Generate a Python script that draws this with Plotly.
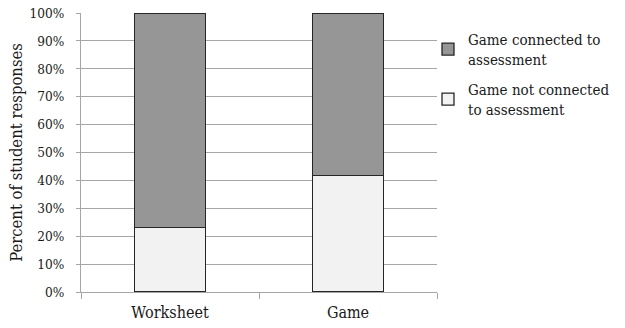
import plotly.graph_objects as go

# Share of student responses per activity (percent)
categories = ["Worksheet", "Game"]
not_connected = [23.0, 41.8]
connected = [77.0, 58.2]
y_ticks = [0, 10, 20, 30, 40, 50, 60, 70, 80, 90, 100]
y_tick_labels = [f"{v}%" for v in y_ticks]

FONT = "DejaVu Serif Condensed, DejaVu Serif"
GRID = "#a6a6a6"
TEXT = "#1a1a1a"

# paper area spans x=81..625 px; plot occupies 81..437 px
PAPER_W = 625 - 81
PLOT_W = 437 - 81

fig = go.Figure()
fig.add_trace(go.Bar(
    x=categories, y=not_connected,
    name="Game not connected<br>to assessment",
    legendgroup="not_connected", legendrank=2,
    marker=dict(color="#f2f2f2", line=dict(color="#262626", width=1.3)),
))
fig.add_trace(go.Bar(
    x=categories, y=connected,
    name="Game connected to<br>assessment",
    legendgroup="connected", legendrank=1,
    marker=dict(color="#969696", line=dict(color="#262626", width=1.3)),
))

fig.update_layout(
    barmode="stack",
    bargap=0.6,
    width=625, height=328,
    margin=dict(l=81, r=0, t=13, b=36, autoexpand=False),
    paper_bgcolor="white", plot_bgcolor="white",
    font=dict(family=FONT, size=16, color=TEXT),
    legend=dict(
        x=(428 - 81) / PAPER_W, y=0.964, xanchor="left", yanchor="top",
        traceorder="grouped",
        font=dict(family=FONT, size=15, color=TEXT),
        itemwidth=30, tracegroupgap=8,
        bgcolor="rgba(0,0,0,0)",
    ),
    xaxis=dict(
        domain=[0, PLOT_W / PAPER_W],
        tickson="boundaries", ticks="outside", ticklen=6, tickcolor=GRID,
        ticklabelstandoff=6,
        showline=True, linecolor=GRID, linewidth=1,
        showgrid=False,
        tickfont=dict(family=FONT, size=16, color=TEXT),
    ),
    yaxis=dict(
        range=[0, 100], tickmode="array",
        tickvals=y_ticks, ticktext=y_tick_labels,
        ticks="outside", ticklen=4, tickcolor=GRID,
        ticklabelstandoff=9,
        showline=True, linecolor=GRID, linewidth=1,
        showgrid=True, gridcolor=GRID, gridwidth=1,
        zeroline=False,
        tickfont=dict(family=FONT, size=13.5, color=TEXT),
        title=dict(text="Percent of student responses",
                   font=dict(family=FONT, size=16.5, color=TEXT),
                   standoff=2),
    ),
)

fig.write_html("out.html")
